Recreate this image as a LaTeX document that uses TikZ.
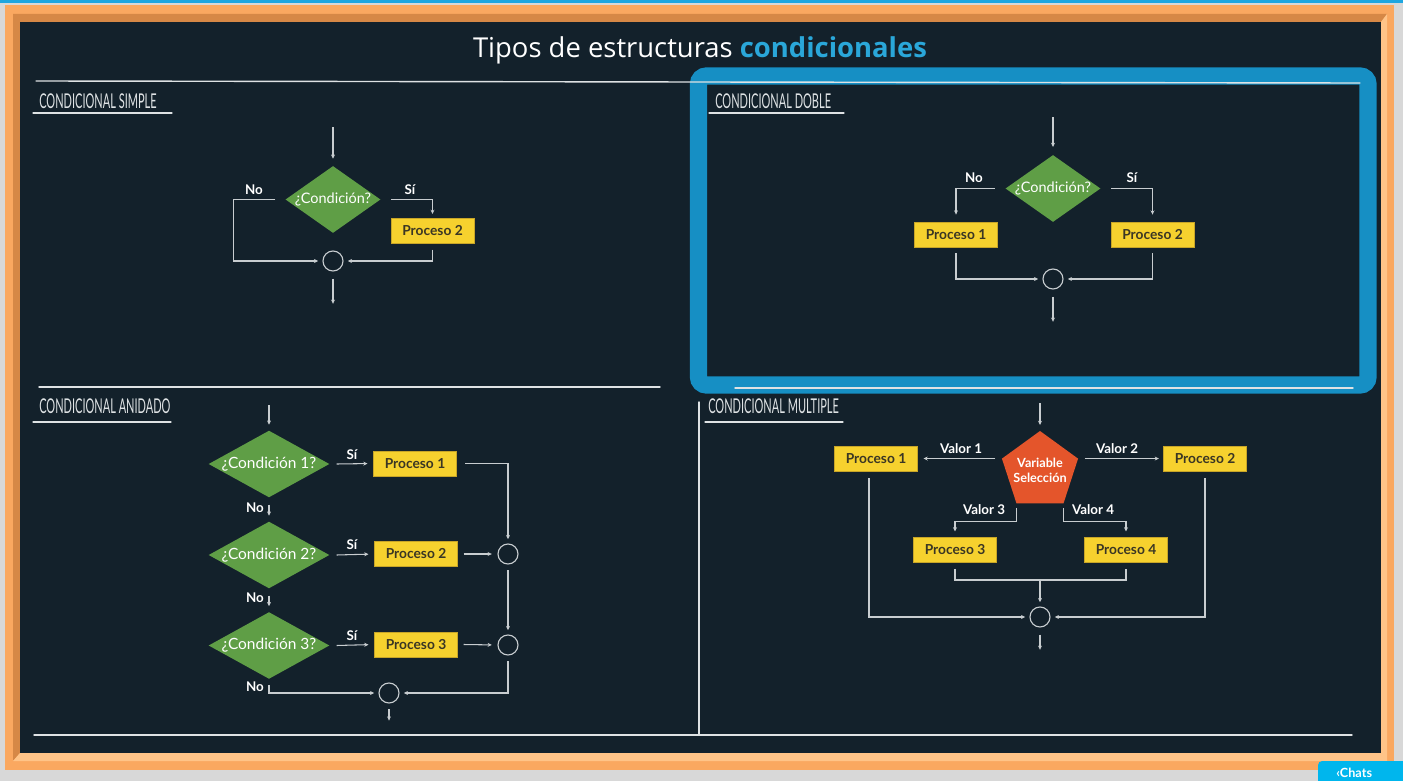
\documentclass[tikz,border=0pt]{standalone}
\usepackage{fontspec}
\setmainfont{Lato}
\newfontfamily\titlefont{Open Sans}
\newfontfamily\chalkfont[FakeStretch=0.54]{Lato}
\usepackage{xcolor}
\usetikzlibrary{positioning, arrows.meta, shapes.geometric}

\definecolor{bggray}{RGB}{216,216,216}
\definecolor{topcyan}{RGB}{30,166,224}
\definecolor{frameorange}{RGB}{250,168,96}
\definecolor{framedark}{RGB}{214,136,70}
\definecolor{framelight}{RGB}{255,196,136}
\definecolor{board}{RGB}{19,33,43}
\definecolor{chalkwhite}{RGB}{222,226,228}
\definecolor{wire}{RGB}{200,205,208}
\definecolor{askgreen}{RGB}{95,158,70}
\definecolor{procyellow}{RGB}{246,209,46}
\definecolor{procedge}{RGB}{200,165,40}
\definecolor{proctext}{RGB}{58,54,36}
\definecolor{selorange}{RGB}{228,85,43}
\definecolor{markblue}{RGB}{22,143,196}
\definecolor{titlecyan}{RGB}{42,167,217}
\definecolor{chatcyan}{RGB}{0,182,237}

\begin{document}
\begin{tikzpicture}[x=0.025cm, y=-0.025cm,
    wire/.style={draw=wire, line width=0.75pt},
    flow/.style={wire, -{Stealth[length=3pt,width=2.8pt]}, shorten >=3pt},
    askbox/.style={diamond, fill=askgreen, text=white, inner sep=0pt, aspect=1.42,
        minimum width=2.32cm, minimum height=1.66cm, font=\fontsize{10.3}{12}\selectfont},
    askwide/.style={askbox, aspect=1.8, minimum width=3.02cm, font=\fontsize{11}{13}\selectfont},
    procbox/.style={rectangle, fill=procyellow, draw=procedge, line width=0.4pt, text=proctext,
        minimum width=2.08cm, minimum height=0.63cm, inner sep=0pt, font=\fontsize{9.8}{11}\selectfont\bfseries},
    joinnode/.style={circle, draw=wire, line width=0.8pt, minimum size=0.5cm, inner sep=0pt},
    tag/.style={text=white, inner sep=0pt, font=\fontsize{9.5}{11}\selectfont\bfseries},
    selnode/.style={regular polygon, regular polygon sides=5, fill=selorange, minimum size=2cm, inner sep=0pt},
    seltext/.style={text=white, align=center, inner sep=0pt, font=\fontsize{9}{10.5}\selectfont\bfseries},
    chalk/.style={draw=chalkwhite, line width=1pt, line cap=round},
    heading/.style={anchor=west, text=chalkwhite, inner sep=0pt, font=\chalkfont\fontsize{14.5}{15}\selectfont}
]
\useasboundingbox (0,0) rectangle (1403,781);
\clip (0,0) rectangle (1403,781);

% ---- Frame and board ----
\fill[bggray] (0,0) rectangle (1403,781);
\fill[topcyan] (0,0) rectangle (1403,3.5);
\fill[frameorange] (5,5) rectangle (1394,770);
\fill[framedark] (13,14) -- (1387,14) -- (1381,22) -- (20,22) -- (20,753) -- (13,761) -- cycle;
\fill[framelight] (13,761) -- (20,753) -- (1381,753) -- (1381,22) -- (1387,14) -- (1387,761) -- cycle;
\fill[board] (20,22) rectangle (1381,753);

% Highlight round the double case
\draw[markblue, line width=0.43cm, rounded corners=0.2cm] (698.5,76) rectangle (1368,385);

% ---- Chalk lines ----
\draw[chalk] (36,81) -- (1360,83);
\draw[chalk] (39,387) -- (660,387);
\draw[chalk] (735,388) -- (1353,388);
\draw[chalk] (699,402) -- (699,734);
\draw[chalk] (34,735) -- (1352,735);

% Title
\node[anchor=base, text=white, inner sep=0pt, font=\titlefont\fontsize{19.5}{22}\selectfont] (title) at (700,58)
    {Tipos de estructuras {\bfseries\color{titlecyan}condicionales}};

% Headings with underline
\node[heading] (h-simple) at (39,101) {CONDICIONAL SIMPLE};
\draw[chalk, line width=0.8pt] (33,113) -- (172,113);
\node[heading] (h-doble) at (715,101) {CONDICIONAL DOBLE};
\draw[chalk, line width=0.8pt] (709,113) -- (844,113);
\node[heading] (h-anidado) at (39,406) {CONDICIONAL ANIDADO};
\draw[chalk, line width=0.8pt] (33,422) -- (171,422);
\node[heading] (h-multiple) at (708,406) {CONDICIONAL MULTIPLE};
\draw[chalk, line width=0.8pt] (705,422) -- (843,422);

% ---- Condicional simple ----
\coordinate (s-in) at (333,127);
\coordinate (s-out) at (333,308);
\node[askbox] (s-cond) at (333,199.5) {¿Condición?};
\node[procbox] (s-p2) at (432.5,231) {Proceso 2};
\node[joinnode] (s-join) at (333,261) {};
\node[tag] (s-no) at (254,190) {No};
\node[tag] (s-si) at (410,190) {Sí};
\draw[flow, shorten >=5pt] (s-in) -- (s-cond.north);
\draw[flow] ([xshift=7.5pt]s-cond.east) -| (s-p2.north);
\draw[flow] ([xshift=-7pt]s-cond.west) -- ++(-42,0) |- (s-join.west);
\draw[flow] ([yshift=-4pt]s-p2.south) |- (s-join.east);
\draw[flow] ([yshift=-5pt]s-join.south) -- (s-out);

% ---- Condicional doble ----
\coordinate (d-in) at (1053,117);
\coordinate (d-out) at (1053,326);
\node[askbox] (d-cond) at (1053,188.5) {¿Condición?};
\node[procbox] (d-p1) at (956,234.5) {Proceso 1};
\node[procbox] (d-p2) at (1152.5,234.5) {Proceso 2};
\node[joinnode] (d-join) at (1053,279) {};
\node[tag] (d-no) at (974,178) {No};
\node[tag] (d-si) at (1132,178) {Sí};
\draw[flow, shorten >=5.5pt] (d-in) -- (d-cond.north);
\draw[flow, shorten >=5pt] ([xshift=-7.5pt]d-cond.west) -| (d-p1.north);
\draw[flow, shorten >=5pt] ([xshift=7.5pt]d-cond.east) -| (d-p2.north);
\draw[flow] ([yshift=-4pt]d-p1.south) |- (d-join.west);
\draw[flow] ([yshift=-4pt]d-p2.south) |- (d-join.east);
\draw[flow] ([yshift=-5pt]d-join.south) -- (d-out);

% ---- Condicional anidado ----
\coordinate (n-in) at (269,405);
\coordinate (n-out) at (389,722);
\node[askwide] (n-c1) at (269,464) {¿Condición 1?};
\node[askwide] (n-c2) at (269,555) {¿Condición 2?};
\node[askwide] (n-c3) at (269,645.5) {¿Condición 3?};
\node[procbox] (n-p1) at (415,463.5) {Proceso 1};
\node[procbox] (n-p2) at (416,554) {Proceso 2};
\node[procbox] (n-p3) at (416,644.5) {Proceso 3};
\node[joinnode] (n-j1) at (508,554) {};
\node[joinnode] (n-j2) at (508,645) {};
\node[joinnode] (n-j3) at (389,693) {};
\foreach \k/\y in {1/455, 2/545, 3/636} { \node[tag] (n-si\k) at (352,\y) {Sí}; }
\foreach \k/\y in {1/508, 2/598, 3/687} { \node[tag] (n-no\k) at (255,\y) {No}; }
\draw[flow, shorten >=4pt] (n-in) -- (n-c1.north);
\draw[flow, shorten <=5pt, shorten >=4pt] (n-c1.south) -- (n-c2.north);
\draw[flow, shorten <=5pt, shorten >=4pt] (n-c2.south) -- (n-c3.north);
\foreach \k in {1,2,3} { \draw[flow, shorten >=4pt] ([xshift=5pt]n-c\k.east) -- (n-p\k.west); }
\draw[flow] ([xshift=6pt]n-p1.east) -| (n-j1.north);
\draw[flow, shorten >=4pt] ([xshift=4pt]n-p2.east) -- (n-j1.west);
\draw[flow, shorten >=4pt] ([xshift=4pt]n-p3.east) -- (n-j2.west);
\draw[flow] ([yshift=-4pt]n-j1.south) -- (n-j2.north);
\draw[flow] ([yshift=-4pt]n-c3.south) |- (n-j3.west);
\draw[flow] ([yshift=-4pt]n-j2.south) |- (n-j3.east);
\draw[flow, shorten >=1pt] ([yshift=-4pt]n-j3.south) -- (n-out);

% ---- Condicional multiple ----
\coordinate (m-in) at (1040,403);
\coordinate (m-out) at (1040,654);
\coordinate (m-mid) at (1040,580);
\node[selnode] (m-sel) at (1040,471) {};
\node[seltext] (m-seltext) at (1040,470) {Variable\\Selección};
\node[procbox] (m-p1) at (876,458.5) {Proceso 1};
\node[procbox] (m-p2) at (1205,458.5) {Proceso 2};
\node[procbox] (m-p3) at (955,550) {Proceso 3};
\node[procbox] (m-p4) at (1126,550) {Proceso 4};
\node[joinnode] (m-join) at (1040,617) {};
\node[tag] (m-v1) at (961,449) {Valor 1};
\node[tag] (m-v2) at (1117,449) {Valor 2};
\node[tag] (m-v3) at (984,510) {Valor 3};
\node[tag] (m-v4) at (1093,510) {Valor 4};
\draw[flow, shorten >=4pt] (m-in) -- (m-sel.corner 1);
\draw[flow, shorten >=4pt] ([xshift=-4.5pt]m-sel.corner 2) -- (m-sel.corner 2 -| m-p1.east);
\draw[flow, shorten >=3pt] ([xshift=4.5pt]m-sel.corner 5) -- (m-sel.corner 5 -| m-p2.west);
\draw[flow, shorten >=4pt] ([yshift=-3pt]m-sel.corner 3) -- ++(0,14) -| (m-p3.north);
\draw[flow, shorten >=4pt] ([yshift=-3pt]m-sel.corner 4) -- ++(0,14) -| (m-p4.north);
\draw[wire] ([yshift=-4pt]m-p3.south) |- (m-mid) -| ([yshift=-4pt]m-p4.south);
\draw[flow] (m-mid) -- (m-join.north);
\draw[flow] ([xshift=-5pt, yshift=-5pt]m-p1.south) |- (m-join.west);
\draw[flow] ([yshift=-5pt]m-p2.south) |- (m-join.east);
\draw[flow] ([yshift=-5pt]m-join.south) -- (m-out);

% ---- Chats tab ----
\fill[chatcyan, rounded corners=3pt] (1318,761) rectangle (1420,800);
\node[anchor=base west, text=white, inner sep=0pt, font=\fontsize{9}{10}\selectfont\bfseries] (chats) at (1336,777.5) {‹Chats};

\end{tikzpicture}
\end{document}
